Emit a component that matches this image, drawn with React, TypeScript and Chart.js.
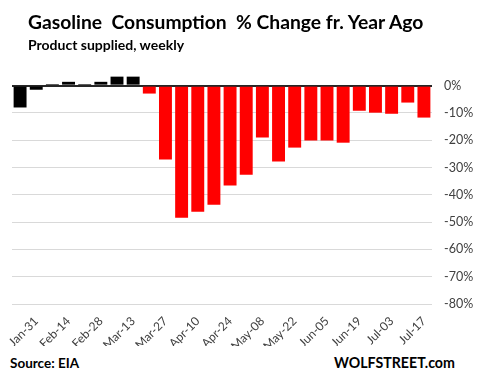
import React, { useEffect, useRef } from "react";
import { Chart, registerables } from "chart.js";

Chart.register(...registerables);

const weeks: string[] = [
  "Jan-24", "Jan-31", "Feb-07", "Feb-14", "Feb-21", "Feb-28", "Mar-06", "Mar-13",
  "Mar-20", "Mar-27", "Apr-03", "Apr-10", "Apr-17", "Apr-24", "May-01", "May-08",
  "May-15", "May-22", "May-29", "Jun-05", "Jun-12", "Jun-19", "Jun-26", "Jul-03",
  "Jul-10", "Jul-17",
];

const pctChange: number[] = [
  -8.0, -1.5, 0.6, 1.4, 0.6, 1.4, 3.3, 3.3,
  -2.9, -27.1, -48.4, -46.2, -43.6, -36.6, -32.6, -19.0,
  -27.8, -22.7, -20.1, -20.1, -20.9, -9.2, -9.9, -10.3,
  -6.2, -11.7,
];

// first 8 weeks shown black (pre-lockdown), the rest red
const blackWeeks = 8;

const yTicks: number[] = [0, -10, -20, -30, -40, -50, -60, -70, -80];

const FONT = "Lato, 'Open Sans', sans-serif";

export default function App() {
  const ref = useRef<HTMLCanvasElement | null>(null);

  useEffect(() => {
    if (!ref.current) return;
    const colors = pctChange.map((_, i) => (i < blackWeeks ? "#000000" : "#ff0000"));
    const chart = new Chart(ref.current, {
      type: "bar",
      data: {
        labels: weeks,
        datasets: [
          {
            data: pctChange,
            backgroundColor: colors,
            borderWidth: 0,
            categoryPercentage: 1,
            barPercentage: 0.8,
          },
        ],
      },
      options: {
        animation: false,
        responsive: false,
        maintainAspectRatio: false,
        layout: { padding: { left: 12, top: 72, right: 0, bottom: 0 } },
        plugins: {
          legend: { display: false },
          tooltip: { enabled: false },
          title: { display: false },
        },
        scales: {
          x: {
            grid: { display: false, drawTicks: false },
            border: { display: false },
            ticks: {
              autoSkip: false,
              maxRotation: 45,
              minRotation: 45,
              padding: 10,
              color: "#404040",
              font: { family: FONT, size: 12 },
              callback: (_v: any, i: number) => (i % 2 === 1 ? weeks[i] : ""),
            },
            afterFit: (axis: any) => {
              axis.height = 42;
            },
          },
          y: {
            position: "right",
            min: -80,
            max: 5,
            afterBuildTicks: (axis: any) => {
              axis.ticks = yTicks.map((v) => ({ value: v }));
            },
            grid: {
              drawTicks: false,
              color: (ctx: any) => (ctx.tick && ctx.tick.value === 0 ? "#262626" : "#d9d9d9"),
              lineWidth: (ctx: any) => (ctx.tick && ctx.tick.value === 0 ? 2 : 1),
            },
            border: { display: false },
            ticks: {
              padding: 12,
              color: "#404040",
              font: { family: FONT, size: 12.5 },
              callback: (v: any) => `${v}%`,
            },
            afterFit: (axis: any) => {
              axis.width = 45;
            },
          },
        },
      },
    });
    return () => chart.destroy();
  }, []);

  return (
    <div
      style={{
        position: "fixed",
        left: 0,
        top: 0,
        width: 477,
        height: 380,
        background: "#ffffff",
        fontFamily: FONT,
        overflow: "hidden",
      }}
    >
      <canvas
        ref={ref}
        width={477}
        height={346}
        style={{ position: "absolute", left: 0, top: 0, width: 477, height: 346 }}
      />
      <div
        style={{
          position: "absolute",
          left: 28,
          top: 10,
          fontSize: 19.3,
          fontWeight: 700,
          color: "#000",
          whiteSpace: "pre",
        }}
      >
        {"Gasoline  Consumption  % Change fr. Year Ago"}
      </div>
      <div
        style={{
          position: "absolute",
          left: 28,
          top: 36,
          fontSize: 14,
          fontWeight: 700,
          color: "#000",
          whiteSpace: "pre",
        }}
      >
        Product supplied, weekly
      </div>
      <div
        style={{
          position: "absolute",
          left: 10,
          top: 355,
          fontSize: 13.5,
          fontWeight: 700,
          color: "#000",
        }}
      >
        Source: EIA
      </div>
      <div
        style={{
          position: "absolute",
          left: 334,
          top: 354,
          fontSize: 14.2,
          fontWeight: 700,
          color: "#000",
        }}
      >
        WOLFSTREET.com
      </div>
    </div>
  );
}
